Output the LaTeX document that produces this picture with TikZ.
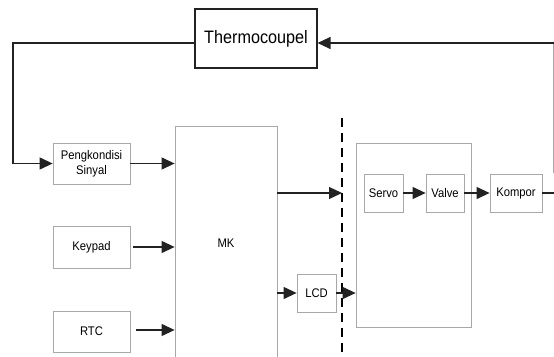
\documentclass[tikz,border=0pt]{standalone}
\usepackage{fontspec}
\setmainfont[FakeStretch=0.9]{Liberation Sans}
\usetikzlibrary{arrows.meta}
\definecolor{boxgray}{HTML}{A8A8A8}
\definecolor{linedark}{HTML}{222222}
\tikzset{
  graybox/.style={draw=boxgray, line width=0.8pt, fill=white, inner sep=0pt, align=center, font=\fontsize{12.5}{15}\selectfont},
  darkbox/.style={draw=linedark, line width=1.1pt, fill=white, inner sep=0pt, font=\fontsize{18}{20}\selectfont},
  conn/.style={draw=linedark, line width=1.2pt},
  arr/.style={conn, -{Triangle[length=13pt,width=12pt]}},
  dashline/.style={draw=black, line width=1.1pt, dash pattern=on 9pt off 6pt}
}
\begin{document}
\begin{tikzpicture}[x=1pt,y=-1pt]
\useasboundingbox (0,0) rectangle (554,356);
\clip (0,0) rectangle (554,356);
% boxes
\node[darkbox, minimum width=122pt, minimum height=59pt] (thermo) at (256,38.5) {Thermocoupel};
\node[graybox, minimum width=77pt, minimum height=41pt] (pengk) at (91.5,163.5) {Pengkondisi\\Sinyal};
\node[graybox, minimum width=77pt, minimum height=42pt] (keypad) at (91.5,247) {Keypad};
\node[graybox, minimum width=77pt, minimum height=41pt] (rtc) at (91.5,331.5) {RTC};
\node[graybox, minimum width=102pt, minimum height=234pt] (mk) at (226,243) {MK};
\node[graybox, minimum width=115pt, minimum height=184pt] (big) at (413.5,235) {};
\node[graybox, minimum width=39pt, minimum height=38pt] (servo) at (383.5,193) {Servo};
\node[graybox, minimum width=38pt, minimum height=38pt] (valve) at (445,193) {Valve};
\node[graybox, minimum width=52pt, minimum height=38pt] (kompor) at (516,193) {Kompor};
\node[graybox, minimum width=39pt, minimum height=38pt] (lcd) at (316.5,293) {LCD};
% coordinates
\coordinate (ty) at (0,43);
\coordinate (fbright) at (554,43);
\coordinate (fbleft) at (13,43);
\coordinate (fbdown) at (13,163.5);
\coordinate (kstart) at (133,247);
\coordinate (rstart) at (136,330);
\coordinate (dtop) at (342,118);
\coordinate (dbot) at (342,360);
\coordinate (dhit) at (342,193);
\coordinate (kright) at (554,193);
\coordinate (rgtop) at (553,43);
\coordinate (rgbot) at (553,173);
% right edge gray line
\draw[draw=boxgray, line width=0.8pt] (rgtop) -- (rgbot);
% dashed separator
\draw[dashline] (dtop) -- (dbot);
% connectors
\draw[arr] (fbright) -- (thermo.east |- ty);
\draw[conn] (thermo.west |- ty) -- (fbleft) -- (fbdown);
\draw[arr] (fbdown) -- (pengk.west);
\draw[arr] (pengk.east) -- (mk.west |- pengk.east);
\draw[arr] (kstart) -- (mk.west |- kstart);
\draw[arr] (rstart) -- (mk.west |- rstart);
\draw[arr] (mk.east |- dhit) -- (dhit);
\draw[arr] (mk.east |- lcd.west) -- (lcd.west);
\draw[arr] (lcd.east) -- (big.west |- lcd.east);
\draw[arr] (servo.east) -- (valve.west);
\draw[arr] (valve.east) -- (kompor.west);
\draw[conn] (kompor.east) -- (kright);
\end{tikzpicture}
\end{document}
